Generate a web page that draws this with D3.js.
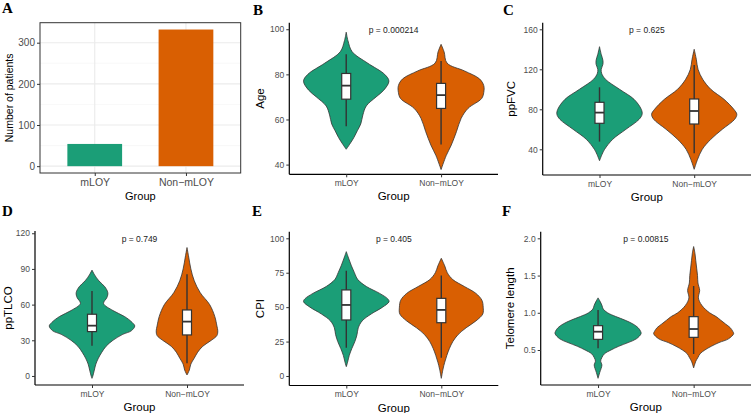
<!DOCTYPE html>
<meta charset="utf-8">
<body style="margin:0;background:#fff">
<script src="https://d3js.org/d3.v7.min.js"></script>
<script>
var width = 751,
    height = 413;

var groups = ["mLOY", "Non-mLOY"];
var colors = ["#1B9E77", "#D95F02"];
var patientCounts = [54, 332];

// violin outlines: [value, relative half-width]
var ageProfiles = [
  [[46.8,0],[49,0.08],[52,0.18],[55,0.26],[58,0.34],[62,0.39],[66,0.47],[70,0.7],[73,0.88],[77,1],[80,0.9],[85,0.5],[90,0.14],[95,0.04],[98.7,0]],
  [[37.8,0],[44,0.12],[48.7,0.24],[54.6,0.36],[60.5,0.47],[64.9,0.63],[69.3,0.95],[72,1],[75,1],[78,0.9],[81.5,0.55],[85,0.14],[90,0.07],[93.3,0]]
];
var fvcProfiles = [
  [[28.6,0],[35,0.06],[40,0.12],[50,0.31],[60,0.62],[70,0.93],[75,1],[80,0.98],[90,0.81],[100,0.47],[110,0.14],[116,0.05],[120,0.04],[125,0.08],[129,0.08],[135,0.04],[142.6,0]],
  [[20,0],[30,0.08],[40,0.19],[50,0.39],[60,0.66],[70,0.95],[75,1],[80,0.93],[90,0.7],[100,0.39],[110,0.2],[120,0.09],[130,0.05],[140,0]]
];
var tlcoProfiles = [
  [[-2,0],[0,0.02],[5,0.055],[10,0.09],[15,0.15],[20,0.23],[25,0.33],[30,0.49],[35,0.72],[38,0.92],[42,1],[45,0.94],[50,0.76],[55,0.49],[61,0.27],[66,0.35],[70,0.37],[75,0.3],[80,0.16],[85,0.06],[89,0]],
  [[0.8,0],[5,0.055],[10,0.09],[15,0.17],[20,0.25],[25,0.37],[30,0.57],[34,0.7],[38,0.72],[42,0.7],[50,0.65],[60,0.53],[70,0.31],[80,0.17],[90,0.09],[100,0.04],[108,0]]
];
var cpiProfiles = [
  [[6.8,0],[10,0.03],[15,0.07],[20,0.13],[25,0.2],[30,0.25],[35,0.28],[40,0.37],[45,0.58],[50,0.85],[54,1],[56,0.97],[60,0.78],[65,0.47],[70,0.27],[75,0.19],[80,0.12],[85,0.06],[90.3,0]],
  [[-1.7,0],[5,0.04],[10,0.08],[15,0.13],[20,0.19],[25,0.27],[30,0.39],[35,0.58],[40,0.81],[45,0.97],[50,0.98],[55,0.95],[60,0.81],[65,0.54],[70,0.27],[75,0.14],[80,0.08],[85.5,0]]
];
var telomereProfiles = [
  [[0.12,0],[0.2,0.04],[0.25,0.07],[0.3,0.09],[0.35,0.06],[0.4,0.09],[0.45,0.15],[0.5,0.3],[0.55,0.48],[0.6,0.7],[0.65,0.89],[0.72,1],[0.75,0.99],[0.8,0.93],[0.85,0.81],[0.9,0.63],[0.95,0.41],[1,0.22],[1.05,0.12],[1.1,0.09],[1.15,0.05],[1.2,0]],
  [[0.26,0],[0.3,0.02],[0.35,0.05],[0.4,0.1],[0.45,0.15],[0.5,0.26],[0.55,0.41],[0.6,0.59],[0.65,0.81],[0.72,0.93],[0.75,0.91],[0.8,0.85],[0.85,0.74],[0.9,0.63],[0.95,0.52],[1,0.37],[1.1,0.19],[1.2,0.11],[1.3,0.14],[1.4,0.1],[1.5,0.09],[1.6,0.07],[1.7,0.05],[1.8,0.03],[1.89,0]]
];

// boxes: [lower whisker, q1, median, q3, upper whisker]
var ageBoxes = [[57, 69, 75, 80.4, 88.9], [48.9, 64.9, 70.8, 76, 85.9]];
var fvcBoxes = [[47.7, 66, 76.7, 87, 102], [36, 65.3, 78.3, 90.3, 124.3]];
var tlcoBoxes = [[25.5, 37.3, 42.3, 51.9, 71.5], [10.7, 34.5, 45.7, 55.5, 85.5]];
var cpiBoxes = [[20.6, 40.7, 51.6, 62.5, 76.5], [13.3, 38.7, 48, 56.4, 72.9]];
var telomereBoxes = [[0.522, 0.643, 0.746, 0.827, 1.037], [0.446, 0.67, 0.782, 0.948, 1.36]];

var countTicks = [0, 100, 200, 300];
var ageTicks = [40, 60, 80, 100];
var fvcTicks = [40, 80, 120, 160];
var tlcoTicks = [0, 30, 60, 90, 120];
var cpiTicks = [0, 25, 50, 75, 100];
var telomereTicks = [0.5, 1.0, 1.5, 2.0];

// ggplot prints the hyphen as a minus sign
var groupLabel = function(d) { return d.replace("-", "\u2212"); };

var svg = d3.select("body").append("svg")
    .attr("width", width)
    .attr("height", height)
    .style("font-family", "'Liberation Sans', Arial, sans-serif");

function letter(txt, x, y) {
  svg.append("text").attr("x", x).attr("y", y).text(txt)
      .style("font-family", "'Liberation Serif', 'Times New Roman', serif")
      .style("font-weight", "bold").style("font-size", "15px");
}

// ---- panel A: bar chart ----
(function() {
  var x0 = 40, x1 = 240.7, y0 = 22.7, y1 = 173;
  var x = d3.scalePoint().domain(groups).range([x0, x1]).padding(0.6);
  var y = d3.scaleLinear().domain([-16.6, 348.6]).range([y1, y0]);
  var g = svg.append("g");

  g.selectAll(".minor").data([50, 150, 250]).enter().append("line")
      .attr("x1", x0).attr("x2", x1).attr("y1", y).attr("y2", y)
      .attr("stroke", "#F3F3F3").attr("stroke-width", 0.6);
  g.selectAll(".major").data(countTicks).enter().append("line")
      .attr("x1", x0).attr("x2", x1).attr("y1", y).attr("y2", y)
      .attr("stroke", "#EBEBEB").attr("stroke-width", 1.1);
  g.selectAll(".vmajor").data(groups).enter().append("line")
      .attr("x1", x).attr("x2", x).attr("y1", y0).attr("y2", y1)
      .attr("stroke", "#EBEBEB").attr("stroke-width", 1.1);

  var bw = x.step() * 0.6;
  g.selectAll(".bar").data(patientCounts).enter().append("rect")
      .attr("x", function(d, i) { return x(groups[i]) - bw / 2; })
      .attr("width", bw)
      .attr("y", function(d) { return y(d); })
      .attr("height", function(d) { return y(0) - y(d); })
      .attr("fill", function(d, i) { return colors[i]; });

  g.append("rect").attr("x", x0).attr("y", y0).attr("width", x1 - x0).attr("height", y1 - y0)
      .attr("fill", "none").attr("stroke", "#333").attr("stroke-width", 1);

  var ya = g.append("g").attr("transform", "translate(" + x0 + ",0)")
      .call(d3.axisLeft(y).tickValues(countTicks).tickSize(3).tickPadding(2));
  var xa = g.append("g").attr("transform", "translate(0," + y1 + ")")
      .call(d3.axisBottom(x).tickSize(3).tickPadding(3).tickFormat(groupLabel));
  [ya, xa].forEach(function(a) {
    a.select(".domain").remove();
    a.selectAll(".tick line").attr("stroke", "#333");
    a.selectAll(".tick text").attr("fill", "#4D4D4D").style("font-size", "10px")
        .style("font-family", "'Liberation Sans', Arial, sans-serif");
  });
  xa.selectAll(".tick text").style("font-size", "10.5px");

  g.append("text").attr("x", (x0 + x1) / 2).attr("y", 200).attr("text-anchor", "middle")
      .style("font-size", "11px").text("Group");
  g.append("text").attr("transform", "translate(13," + (y0 + y1) / 2 + ")rotate(-90)")
      .attr("text-anchor", "middle").style("font-size", "10.5px").text("Number of patients");
  letter("A", 2, 13);
})();

// ---- violin panels ----
function violinPanel(p) {
  var x = d3.scalePoint().domain(groups).range([p.x0, p.x1]).padding(0.6);
  var y = d3.scaleLinear().domain(p.domain).range([p.y1, p.y0]);
  var half = x.step() * 0.45;
  var g = svg.append("g");

  p.profiles.forEach(function(prof, i) {
    var cx = x(groups[i]);
    var area = d3.area()
        .y(function(d) { return y(d[0]); })
        .x0(function(d) { return cx - d[1] * half; })
        .x1(function(d) { return cx + d[1] * half; })
        .curve(d3.curveCatmullRom.alpha(0.5));
    g.append("path").attr("d", area(prof))
        .attr("fill", colors[i]).attr("stroke", "#333").attr("stroke-width", 0.8);
  });

  var bw = 9;
  p.boxes.forEach(function(b, i) {
    var cx = x(groups[i]);
    g.append("line").attr("x1", cx).attr("x2", cx).attr("y1", y(b[0])).attr("y2", y(b[4]))
        .attr("stroke", "#333").attr("stroke-width", 1.4);
    g.append("rect").attr("x", cx - bw / 2).attr("width", bw)
        .attr("y", y(b[3])).attr("height", y(b[1]) - y(b[3]))
        .attr("fill", "#fff").attr("stroke", "#333").attr("stroke-width", 1.2);
    g.append("line").attr("x1", cx - bw / 2).attr("x2", cx + bw / 2)
        .attr("y1", y(b[2])).attr("y2", y(b[2]))
        .attr("stroke", "#333").attr("stroke-width", 1.8);
  });

  var ya = g.append("g").attr("transform", "translate(" + p.x0 + ",0)")
      .call(d3.axisLeft(y).tickValues(p.ticks).tickSize(3).tickPadding(2)
        .tickFormat(p.fmt || d3.format("d")));
  var xa = g.append("g").attr("transform", "translate(0," + p.y1 + ")")
      .call(d3.axisBottom(x).tickSize(3).tickPadding(2.5).tickFormat(groupLabel));
  [ya, xa].forEach(function(a) {
    a.select(".domain").attr("stroke", "#000").attr("stroke-width", 1.2);
    a.selectAll(".tick line").attr("stroke", "#333");
    a.selectAll(".tick text").attr("fill", "#4D4D4D").style("font-size", "8.5px")
        .style("font-family", "'Liberation Sans', Arial, sans-serif");
  });
  ya.select(".domain").attr("d", "M0," + p.y0 + "V" + p.y1);
  xa.select(".domain").attr("d", "M" + p.x0 + ",0H" + p.x1);

  g.append("text").attr("x", (p.x0 + p.x1) / 2).attr("y", p.y0 + 10.5)
      .attr("text-anchor", "middle").style("font-size", "8.5px").attr("fill", "#222").text(p.pText);
  g.append("text").attr("x", (p.x0 + p.x1) / 2).attr("y", p.y1 + 26)
      .attr("text-anchor", "middle").style("font-size", "11.5px").text("Group");
  g.append("text").attr("transform", "translate(" + p.titleX + "," + (p.y0 + p.y1) / 2 + ")rotate(-90)")
      .attr("text-anchor", "middle").style("font-size", "11.5px").text(p.title);
  letter(p.letter, p.lx, p.ly);
}

violinPanel({x0: 289.3, x1: 498, y0: 22.7, y1: 174.3, domain: [35.7, 102.9], ticks: ageTicks,
  profiles: ageProfiles, boxes: ageBoxes, pText: "p = 0.000214", title: "Age", titleX: 264,
  letter: "B", lx: 253, ly: 14.5});
violinPanel({x0: 542.7, x1: 751, y0: 22.7, y1: 175, domain: [14.3, 166.6], ticks: fvcTicks,
  profiles: fvcProfiles, boxes: fvcBoxes, pText: "p = 0.625", title: "ppFVC", titleX: 515,
  letter: "C", lx: 503, ly: 14.5});
violinPanel({x0: 35, x1: 244, y0: 231, y1: 385, domain: [-7.6, 121.9], ticks: tlcoTicks,
  profiles: tlcoProfiles, boxes: tlcoBoxes, pText: "p = 0.749", title: "ppTLCO", titleX: 12,
  letter: "D", lx: 2, ly: 215.5});
violinPanel({x0: 289.3, x1: 498.3, y0: 231.7, y1: 385.5, domain: [-6.9, 104.8], ticks: cpiTicks,
  profiles: cpiProfiles, boxes: cpiBoxes, pText: "p = 0.405", title: "CPI", titleX: 264,
  letter: "E", lx: 252, ly: 215.5});
violinPanel({x0: 540.7, x1: 751, y0: 231.7, y1: 385, domain: [0.03, 2.089], ticks: telomereTicks,
  profiles: telomereProfiles, boxes: telomereBoxes, pText: "p = 0.00815", title: "Telomere length", titleX: 514,
  letter: "F", lx: 502, ly: 215.5, fmt: d3.format(".1f")});
</script>
</html>
